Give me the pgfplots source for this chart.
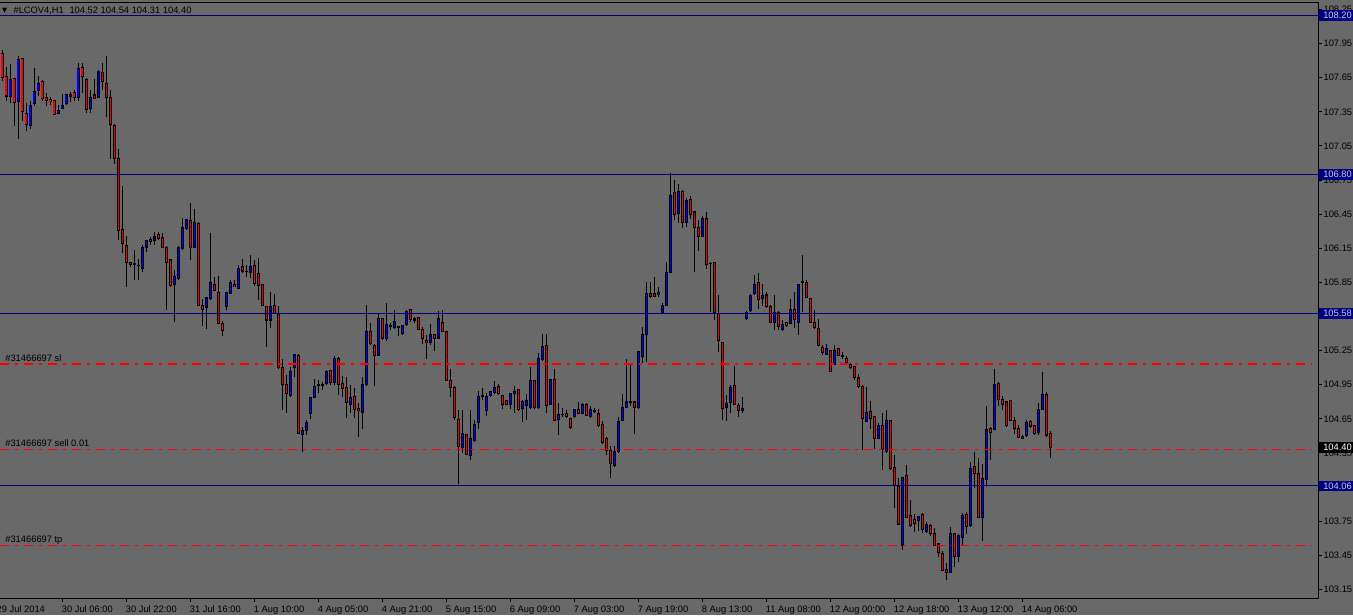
\documentclass[border=0pt]{standalone}
\usepackage{pgfplots}
\pgfplotsset{compat=1.18}
\usepackage{pgfplotstable}
\usepackage{fontspec}
\setmainfont{Liberation Sans}
\newfontfamily\symfont{DejaVu Sans}
\definecolor{mtgrey}{RGB}{105,105,105}
\definecolor{mtnavy}{RGB}{0,0,128}
\definecolor{mtlabel}{RGB}{200,200,215}
\newcommand{\mtfont}{\fontsize{7}{8}\selectfont}

% hourly bars, #LCOV4 H1, 29 Jul 15:00 -> 14 Aug
\pgfplotstableread{
o h l c
107.86 107.89 107.62 107.65
107.66 107.75 107.45 107.49
107.49 107.77 107.43 107.64
107.64 107.64 107.23 107.43
107.44 107.84 107.11 107.81
107.82 107.82 107.27 107.35
107.34 107.43 107.18 107.24
107.23 107.45 107.20 107.41
107.42 107.74 107.40 107.53
107.54 107.67 107.49 107.60
107.62 107.63 107.45 107.47
107.48 107.52 107.40 107.45
107.46 107.48 107.41 107.44
107.45 107.45 107.32 107.33
107.34 107.41 107.33 107.36
107.38 107.51 107.38 107.41
107.42 107.51 107.41 107.50
107.50 107.53 107.44 107.49
107.52 107.54 107.45 107.48
107.48 107.78 107.45 107.73
107.74 107.78 107.52 107.66
107.64 107.65 107.34 107.37
107.38 107.54 107.34 107.48
107.50 107.64 107.47 107.47
107.48 107.72 107.47 107.71
107.70 107.78 107.54 107.62
107.60 107.84 107.31 107.48
107.48 107.54 106.94 107.24
107.23 107.24 106.89 106.94
106.94 107.02 106.22 106.31
106.32 106.70 106.11 106.19
106.18 106.26 105.81 106.03
106.03 106.03 105.99 106.01
106.02 106.14 105.87 106.01
106.00 106.06 105.87 106.00
105.97 106.18 105.94 106.16
106.16 106.22 106.12 106.22
106.23 106.25 106.18 106.21
106.22 106.29 106.18 106.25
106.27 106.29 106.22 106.24
106.25 106.29 106.16 106.16
106.16 106.17 105.61 106.03
106.05 106.06 105.81 105.82
105.83 105.96 105.50 105.90
105.88 106.17 105.87 106.16
106.15 106.42 106.14 106.33
106.32 106.41 106.31 106.40
106.40 106.55 106.05 106.16
106.16 106.50 106.15 106.38
106.37 106.38 105.65 105.65
105.65 105.70 105.47 105.61
105.63 105.72 105.44 105.72
105.71 106.29 105.70 105.85
105.83 105.90 105.78 105.78
105.76 105.91 105.49 105.49
105.49 105.51 105.38 105.43
105.64 105.77 105.61 105.76
105.75 105.87 105.75 105.85
105.83 105.87 105.81 105.81
105.80 106.00 105.80 105.97
105.99 106.06 105.93 105.95
105.95 106.00 105.90 105.95
105.94 106.09 105.89 105.99
106.00 106.05 105.82 105.84
105.93 106.07 105.70 105.82
105.83 105.84 105.64 105.65
105.64 105.64 105.28 105.52
105.52 105.77 105.45 105.64
105.65 105.75 105.57 105.58
105.57 105.64 105.09 105.10
105.10 105.18 104.73 104.95
104.95 105.04 104.70 104.87
104.86 105.11 104.84 105.07
105.10 105.22 105.02 105.22
105.21 105.22 104.52 104.52
104.51 104.58 104.36 104.55
104.55 104.64 104.51 104.62
104.70 104.84 104.65 104.84
104.84 105.00 104.83 104.94
104.95 104.99 104.88 104.94
104.94 104.97 104.90 104.95
104.96 105.08 104.95 105.07
105.08 105.08 104.95 104.97
104.97 105.20 104.95 105.18
105.18 105.19 104.86 104.95
104.96 105.03 104.84 104.92
104.93 105.02 104.66 104.79
104.78 104.95 104.70 104.84
104.85 104.92 104.66 104.73
104.74 104.79 104.49 104.72
104.71 105.02 104.56 104.95
104.95 105.65 104.94 105.42
105.42 105.49 105.30 105.31
105.30 105.31 104.94 105.21
105.21 105.57 105.20 105.53
105.53 105.54 105.34 105.36
105.36 105.67 105.34 105.48
105.47 105.49 105.43 105.46
105.45 105.61 105.44 105.51
105.46 105.47 105.38 105.45
105.40 105.48 105.39 105.47
105.48 105.61 105.47 105.60
105.61 105.62 105.50 105.52
105.53 105.55 105.49 105.52
105.54 105.55 105.43 105.44
105.44 105.46 105.31 105.36
105.34 105.39 105.18 105.32
105.32 105.48 105.30 105.39
105.39 105.40 105.25 105.36
105.36 105.60 105.35 105.53
105.50 105.61 105.41 105.42
105.42 105.42 104.98 104.99
104.99 105.09 104.84 104.93
104.93 104.94 104.64 104.66
104.65 104.73 104.08 104.41
104.40 104.73 104.35 104.52
104.51 104.52 104.33 104.34
104.33 104.73 104.29 104.48
104.46 104.64 104.45 104.60
104.62 104.90 104.56 104.85
104.85 104.92 104.82 104.86
104.72 104.88 104.68 104.85
104.86 104.90 104.84 104.89
104.88 104.98 104.87 104.93
104.94 104.96 104.86 104.87
104.86 104.86 104.74 104.78
104.81 104.81 104.78 104.78
104.78 104.88 104.74 104.87
104.87 104.94 104.70 104.89
104.91 104.91 104.72 104.73
104.74 104.82 104.62 104.80
104.77 104.87 104.64 104.81
104.75 105.11 104.74 104.99
104.99 104.99 104.74 104.75
104.75 105.23 104.74 105.18
105.17 105.40 105.16 105.29
105.30 105.40 104.70 104.77
104.78 105.00 104.78 105.00
105.00 105.09 104.64 104.64
104.64 104.79 104.51 104.69
104.69 104.75 104.67 104.69
104.70 104.73 104.66 104.67
104.65 104.66 104.56 104.57
104.67 104.74 104.66 104.73
104.73 104.80 104.69 104.70
104.70 104.79 104.69 104.78
104.78 104.79 104.68 104.68
104.67 104.76 104.66 104.73
104.72 104.75 104.70 104.72
104.70 104.74 104.58 104.59
104.60 104.63 104.43 104.44
104.48 104.49 104.33 104.37
104.37 104.41 104.13 104.26
104.24 104.41 104.23 104.36
104.36 104.67 104.35 104.63
104.64 104.87 104.63 104.75
104.75 105.18 104.75 104.80
104.80 105.13 104.76 104.80
104.80 104.80 104.52 104.75
104.75 105.25 104.74 105.24
105.20 105.46 105.14 105.39
105.39 105.85 105.15 105.75
105.75 105.85 105.71 105.73
105.75 105.90 105.72 105.73
105.74 105.81 105.72 105.76
105.58 105.67 105.58 105.65
105.65 106.03 105.64 105.94
105.94 106.81 105.94 106.62
106.64 106.75 106.40 106.45
106.46 106.72 106.37 106.65
106.65 106.66 106.33 106.38
106.38 106.59 106.34 106.57
106.58 106.61 106.41 106.45
106.47 106.47 105.94 106.33
106.33 106.40 106.13 106.25
106.25 106.43 106.25 106.41
106.41 106.47 105.97 106.01
106.02 106.03 105.59 106.02
106.03 106.03 105.52 105.59
105.58 105.74 105.24 105.34
105.32 105.33 104.64 104.74
104.75 104.86 104.63 104.79
104.79 104.95 104.70 104.93
104.94 105.12 104.77 104.78
104.77 104.79 104.67 104.72
104.72 104.84 104.70 104.74
105.53 105.60 105.52 105.59
105.60 105.75 105.59 105.74
105.75 105.92 105.74 105.83
105.85 105.93 105.62 105.70
105.71 105.84 105.64 105.74
105.74 105.77 105.63 105.64
105.64 105.65 105.49 105.50
105.50 105.74 105.43 105.59
105.59 105.60 105.43 105.46
105.44 105.52 105.42 105.48
105.50 105.50 105.46 105.47
105.49 105.70 105.48 105.61
105.61 105.77 105.45 105.52
105.50 105.84 105.39 105.83
105.85 106.09 105.59 105.86
105.85 105.87 105.71 105.72
105.71 105.71 105.49 105.50
105.50 105.61 105.44 105.45
105.45 105.53 105.29 105.30
105.28 105.30 105.21 105.23
105.22 105.31 105.21 105.27
105.25 105.26 105.06 105.07
105.13 105.30 105.12 105.25
105.27 105.27 105.20 105.21
105.21 105.24 105.18 105.20
105.18 105.20 105.14 105.15
105.13 105.14 105.09 105.10
105.11 105.11 104.99 105.01
105.01 105.05 104.92 104.93
104.94 104.95 104.38 104.65
104.63 104.93 104.63 104.71
104.72 104.81 104.56 104.65
104.67 104.67 104.39 104.48
104.48 104.61 104.47 104.59
104.59 104.70 104.20 104.38
104.36 104.73 104.35 104.64
104.64 104.64 104.20 104.21
104.22 104.33 103.87 104.06
104.06 104.13 103.72 103.72
103.54 104.14 103.50 104.14
104.15 104.24 103.78 103.78
103.80 103.94 103.70 103.71
103.77 103.81 103.66 103.73
103.76 103.79 103.66 103.79
103.81 103.82 103.65 103.68
103.66 103.74 103.65 103.72
103.71 103.73 103.62 103.64
103.64 103.69 103.53 103.54
103.55 103.55 103.44 103.47
103.47 103.49 103.32 103.32
103.33 103.38 103.23 103.30
103.30 103.70 103.30 103.64
103.64 103.65 103.35 103.44
103.44 103.64 103.39 103.63
103.61 103.82 103.54 103.80
103.81 103.83 103.64 103.70
103.71 104.27 103.70 104.21
104.23 104.36 104.04 104.17
104.17 104.31 103.78 103.78
103.78 104.25 103.58 104.13
104.12 104.76 104.05 104.56
104.57 104.58 104.29 104.53
104.56 105.09 104.55 104.95
104.96 104.97 104.76 104.82
104.82 104.85 104.73 104.78
104.80 104.80 104.58 104.59
104.81 104.82 104.63 104.64
104.64 104.67 104.52 104.57
104.57 104.60 104.48 104.49
104.48 104.51 104.47 104.50
104.50 104.64 104.49 104.62
104.63 104.64 104.57 104.58
104.59 104.60 104.51 104.52
104.53 104.79 104.51 104.73
104.73 105.06 104.73 104.87
104.87 104.89 104.49 104.50
104.52 104.54 104.31 104.40
}\ohlc

\begin{document}
\begin{tikzpicture}
\useasboundingbox (0,0) rectangle (1014.75pt,461.25pt);
\fill[mtgrey] (0,0) rectangle (1014.75pt,461.25pt);
\begin{axis}[
  at={(0pt,12.75pt)}, anchor=south west,
  scale only axis, width=988.5pt, height=446.25pt,
  xmin=-0.575, xmax=328.925, ymin=103.0746, ymax=108.3076,
  axis line style={black, line width=0.75pt},
  tick align=outside, major tick length=3pt,
  tick style={black, line width=0.75pt},
  xtick pos=left, ytick pos=right, yticklabel pos=right,
  xtick={15,31,...,255},
  xticklabels={30 Jul 06:00,30 Jul 22:00,31 Jul 16:00,1 Aug 10:00,4 Aug 05:00,4 Aug 21:00,5 Aug 15:00,6 Aug 09:00,7 Aug 03:00,7 Aug 19:00,8 Aug 13:00,11 Aug 08:00,12 Aug 00:00,12 Aug 18:00,13 Aug 12:00,14 Aug 06:00},
  ytick={103.15,103.45,103.75,104.05,104.35,104.65,104.95,105.25,105.55,105.85,106.15,106.45,106.75,107.05,107.35,107.65,107.95,108.25},
  tick label style={font=\mtfont, text=black},
  xticklabel style={anchor=north west, inner sep=0pt, xshift=-0.5pt, yshift=-2.5pt},
  yticklabel style={anchor=west, inner sep=0pt, xshift=1pt,
    /pgf/number format/.cd, fixed, fixed zerofill, precision=2, 1000 sep={}, assume math mode=true},
  candle/.style={draw=none, mark=none, forget plot,
    error bars/.cd, y dir=both, y explicit, error mark=none},
]
% wicks
\addplot[candle, error bar style={draw=black, line width=0.75pt, line cap=butt}]
  table[x expr=\coordindex, y expr={(\thisrow{h}+\thisrow{l})/2}, y error expr={(\thisrow{h}-\thisrow{l})/2}] {\ohlc};
% body outlines
\addplot[candle, error bar style={draw=black, line width=2.5pt, line cap=butt}]
  table[x expr=\coordindex, y expr={(\thisrow{o}+\thisrow{c})/2}, y error expr={abs(\thisrow{c}-\thisrow{o})/2+0.004}] {\ohlc};
% bull bodies
\addplot[candle, error bar style={draw=blue, line width=1.2pt, line cap=butt}]
  table[x expr=\coordindex, y expr={(\thisrow{o}+\thisrow{c})/2}, y error expr={max((\thisrow{c}-\thisrow{o})/2-0.005,0)}] {\ohlc};
% bear bodies
\addplot[candle, error bar style={draw=red, line width=1.2pt, line cap=butt}]
  table[x expr=\coordindex, y expr={(\thisrow{o}+\thisrow{c})/2}, y error expr={max((\thisrow{o}-\thisrow{c})/2-0.005,0)}] {\ohlc};

% horizontal levels
\addplot[mtnavy, line width=0.75pt] coordinates {(-1,108.20) (330,108.20)};
\addplot[mtnavy, line width=0.75pt] coordinates {(-1,106.80) (330,106.80)};
\addplot[mtnavy, line width=0.75pt] coordinates {(-1,105.58) (330,105.58)};
\addplot[mtnavy, line width=0.75pt] coordinates {(-1,104.06) (330,104.06)};
% order lines
\addplot[red, line width=1.3pt, dash pattern=on 6.75pt off 4.5pt on 2.25pt off 4.5pt] coordinates {(-0.575,105.13) (327.4,105.13)};
\addplot[red, line width=0.75pt, dash pattern=on 6.75pt off 4.5pt on 2.25pt off 4.5pt] coordinates {(-0.575,104.38) (327.4,104.38)};
\addplot[red, line width=0.75pt, dash pattern=on 6.75pt off 4.5pt on 2.25pt off 4.5pt] coordinates {(-0.575,103.54) (327.4,103.54)};

\node[anchor=base west, inner sep=0pt, font=\mtfont, yshift=2pt] at (axis cs:0.7,105.13) {\#31466697 sl};
\node[anchor=base west, inner sep=0pt, font=\mtfont, yshift=2pt] at (axis cs:0.7,104.38) {\#31466697 sell 0.01};
\node[anchor=base west, inner sep=0pt, font=\mtfont, yshift=2pt] at (axis cs:0.7,103.54) {\#31466697 tp};

\coordinate (r1) at (axis cs:328.925,108.20);
\coordinate (r2) at (axis cs:328.925,106.80);
\coordinate (r3) at (axis cs:328.925,105.58);
\coordinate (r4) at (axis cs:328.925,104.40);
\coordinate (r5) at (axis cs:328.925,104.06);
\end{axis}

\foreach \r/\t in {r1/108.20, r2/106.80, r3/105.58, r5/104.06}
  \node[anchor=west, fill=mtnavy, text=mtlabel, font=\mtfont, inner xsep=3pt, inner ysep=1.6pt, xshift=0.75pt] at (\r) {\t};
\node[anchor=west, fill=black, text=white, font=\mtfont, inner xsep=3pt, inner ysep=1.6pt, xshift=0.75pt] at (r4) {104.40};

% title
\node[font={\symfont\fontsize{5}{6}\selectfont}, inner sep=0pt] at (3.6pt,453pt) {▼};
\node[anchor=west, inner sep=0pt, font=\mtfont] at (10pt,453pt) {\#LCOV4,H1\hspace{0.6em}104.52 104.54 104.31 104.40};
% first date label, cut at the left edge
\node[anchor=north west, inner sep=0pt, font=\mtfont] at (-2.7pt,7pt) {29 Jul 2014};
\end{tikzpicture}
\end{document}
